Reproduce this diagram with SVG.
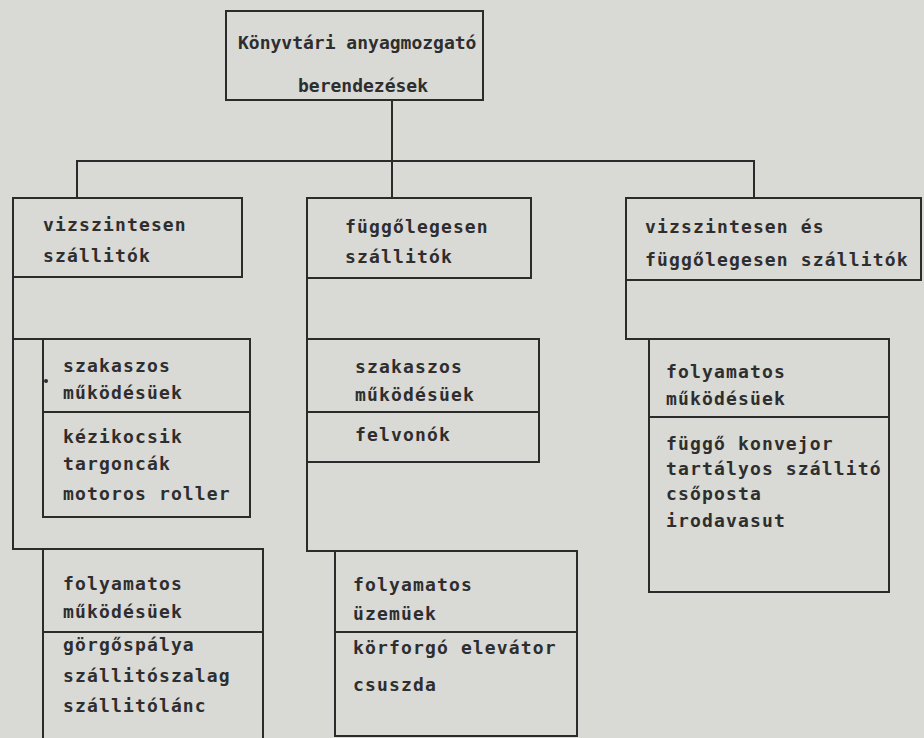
<svg xmlns="http://www.w3.org/2000/svg" width="924" height="738" viewBox="0 0 924 738">
<style>
.bg{fill:#d9d9d5}
.ln{fill:none;stroke:#2b2b2b;stroke-width:2;stroke-linecap:square}
text{font-family:"DejaVu Sans Mono","Liberation Mono",monospace;font-size:18px;font-weight:bold;fill:#2e2e2e;letter-spacing:1.15px}
.top{letter-spacing:0}
</style>
<rect class="bg" x="0" y="0" width="924" height="738"/>
<g id="connectors">
<path class="ln" d="M392 100 V198"/>
<path class="ln" d="M77 161 H754"/>
<path class="ln" d="M77 161 V198"/>
<path class="ln" d="M754 161 V198"/>
</g>
<g id="root">
<rect class="ln" x="226" y="11" width="257" height="89"/>
<text class="top" x="238" y="49">Könyvtári anyagmozgató</text>
<text class="top" x="298" y="92">berendezések</text>
</g>
<g id="horizontal">
<path class="ln" d="M13 198 H242 V277 H13 M13 198 V549 H263"/>
<text x="43" y="231">vizszintesen</text>
<text x="43" y="262">szállitók</text>
</g>
<g id="horizontal-periodic">
<path class="ln" d="M13 339 H250 V517 H43 V339 M43 412 H250"/>
<circle cx="46" cy="381" r="2" fill="#2e2e2e"/>
<text x="63" y="372">szakaszos</text>
<text x="63" y="399">működésüek</text>
<text x="63" y="443">kézikocsik</text>
<text x="63" y="470">targoncák</text>
<text x="63" y="500">motoros roller</text>
</g>
<g id="horizontal-continuous">
<path class="ln" d="M43 738 V549 M263 549 V738 M43 632 H263"/>
<text x="63" y="590">folyamatos</text>
<text x="63" y="618">működésüek</text>
<text x="63" y="651">görgőspálya</text>
<text x="63" y="682">szállitószalag</text>
<text x="63" y="712">szállitólánc</text>
</g>
<g id="vertical">
<path class="ln" d="M307 198 H531 V278 H307 M307 198 V551 H335"/>
<text x="345" y="233">függőlegesen</text>
<text x="345" y="263">szállitók</text>
</g>
<g id="vertical-periodic">
<path class="ln" d="M307 339 H539 V462 H307 M307 412 H539"/>
<text x="355" y="373">szakaszos</text>
<text x="355" y="401">működésüek</text>
<text x="355" y="441">felvonók</text>
</g>
<g id="vertical-continuous">
<rect class="ln" x="335" y="551" width="242" height="185"/>
<path class="ln" d="M335 632 H577"/>
<text x="353" y="591">folyamatos</text>
<text x="353" y="620">üzemüek</text>
<text x="353" y="654">körforgó elevátor</text>
<text x="353" y="691">csuszda</text>
</g>
<g id="both">
<path class="ln" d="M626 198 H921 V280 H626 M626 198 V339 H649"/>
<text x="645" y="233">vizszintesen és</text>
<text x="645" y="266">függőlegesen szállitók</text>
</g>
<g id="both-continuous">
<rect class="ln" x="649" y="339" width="240" height="253"/>
<path class="ln" d="M649 417 H889"/>
<text x="666" y="378">folyamatos</text>
<text x="666" y="405">működésüek</text>
<text x="666" y="450">függő konvejor</text>
<text x="666" y="475">tartályos szállitó</text>
<text x="666" y="500">csőposta</text>
<text x="666" y="527">irodavasut</text>
</g>
</svg>
